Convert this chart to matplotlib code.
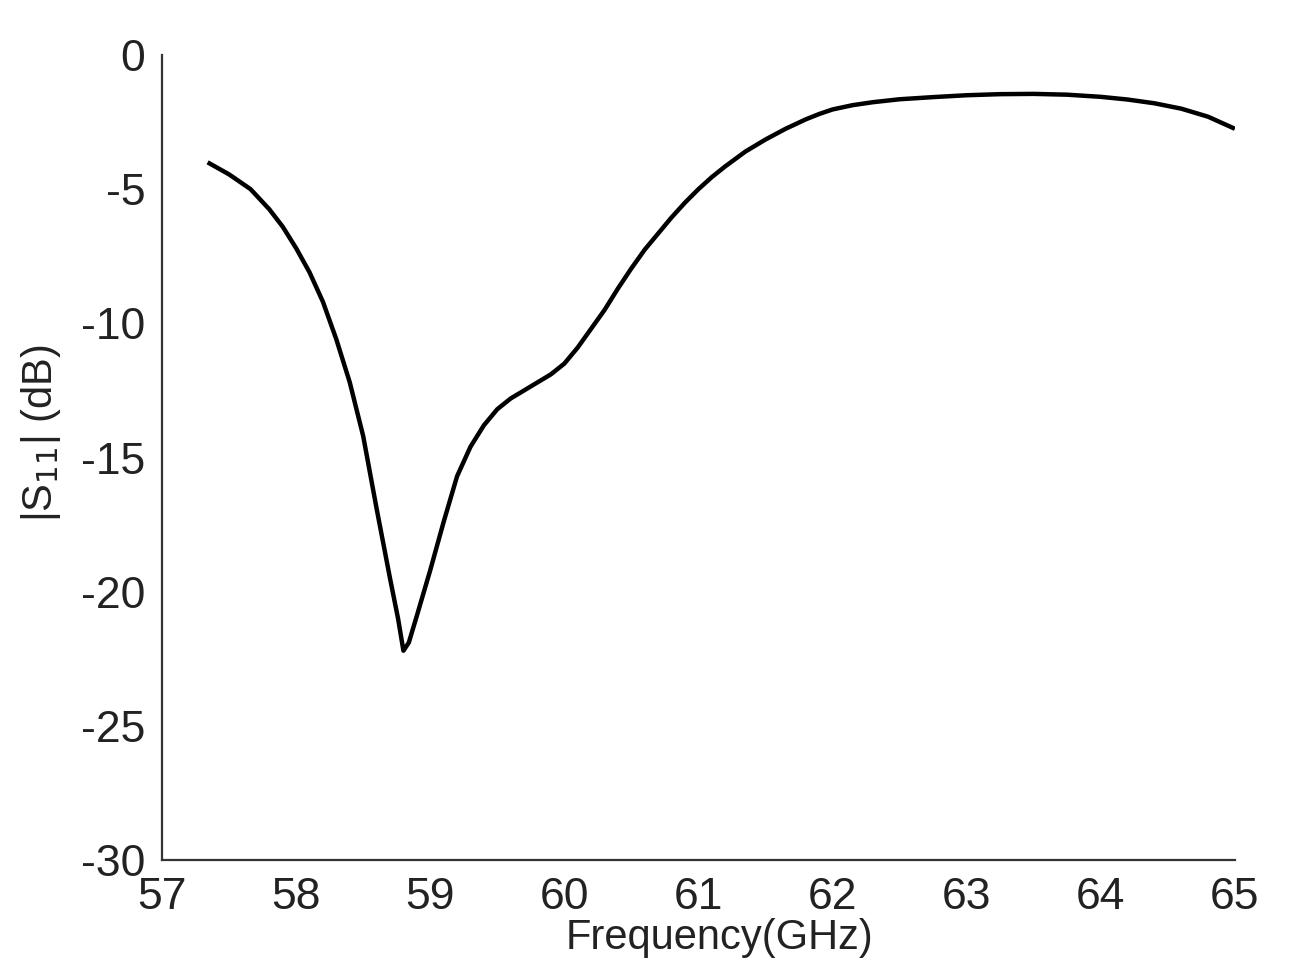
import matplotlib
matplotlib.use("Agg")
import matplotlib.pyplot as plt

# S11 curve
freq = [57.34, 57.5, 57.66, 57.8, 57.9, 58.0, 58.1, 58.2, 58.3, 58.4, 58.5, 58.6, 58.7,
        58.76, 58.80, 58.84, 58.9, 59.0, 59.1, 59.2, 59.3, 59.4, 59.5, 59.6, 59.7, 59.8,
        59.9, 60.0, 60.1, 60.2, 60.3, 60.4, 60.5, 60.6, 60.7, 60.8, 60.9, 61.0, 61.1,
        61.2, 61.35, 61.5, 61.65, 61.8, 61.9, 62.0, 62.15, 62.3, 62.5, 62.75, 63.0, 63.25,
        63.5, 63.75, 64.0, 64.2, 64.4, 64.6, 64.8, 65.0]
s11 = [-4.0, -4.45, -5.0, -5.75, -6.4, -7.2, -8.1, -9.2, -10.6, -12.2, -14.2, -16.9, -19.5,
       -21.0, -22.2, -21.9, -20.9, -19.2, -17.4, -15.7, -14.6, -13.8, -13.2, -12.8, -12.5,
       -12.2, -11.9, -11.5, -10.9, -10.2, -9.5, -8.7, -7.95, -7.25, -6.65, -6.05, -5.5,
       -5.0, -4.55, -4.15, -3.6, -3.15, -2.75, -2.4, -2.2, -2.03, -1.87, -1.76, -1.65,
       -1.57, -1.5, -1.46, -1.45, -1.48, -1.56, -1.66, -1.8, -2.0, -2.3, -2.75]

xticks = [57, 58, 59, 60, 61, 62, 63, 64, 65]
yticks = [0, -5, -10, -15, -20, -25, -30]

fig = plt.figure(figsize=(12.89, 9.80), dpi=100)
ax = fig.add_axes([0.1257, 0.1224, 0.8323, 0.8215])

ax.plot(freq, s11, color='black', linewidth=3.2, solid_joinstyle='round',
        solid_capstyle='butt')

ax.set_xlim(57, 65)
ax.set_ylim(-30, 0)

# only left and bottom axis lines, no tick marks
ax.spines['top'].set_visible(False)
ax.spines['right'].set_visible(False)
for side in ['left', 'bottom']:
    ax.spines[side].set_linewidth(1.6)
    ax.spines[side].set_color('#333333')

ax.set_xticks(xticks)
ax.set_xticklabels([str(t) for t in xticks], fontsize=32, family='Liberation Sans')
ax.set_yticks(yticks)
ax.set_yticklabels([str(t) for t in yticks], fontsize=32, family='Liberation Sans')
ax.tick_params(axis='both', length=0, colors='#222222')
ax.tick_params(axis='x', pad=12)
ax.tick_params(axis='y', pad=12)

ax.set_xlabel('Frequency(GHz)', fontsize=30, family='Liberation Sans', color='#222222')
ax.xaxis.set_label_coords(0.52, -0.072)
ax.set_ylabel('|S$_{11}$| (dB)', fontsize=30, family='Liberation Sans', color='#222222')
ax.yaxis.set_label_coords(-0.092, 0.53)

fig.savefig('out.png', dpi=100)
